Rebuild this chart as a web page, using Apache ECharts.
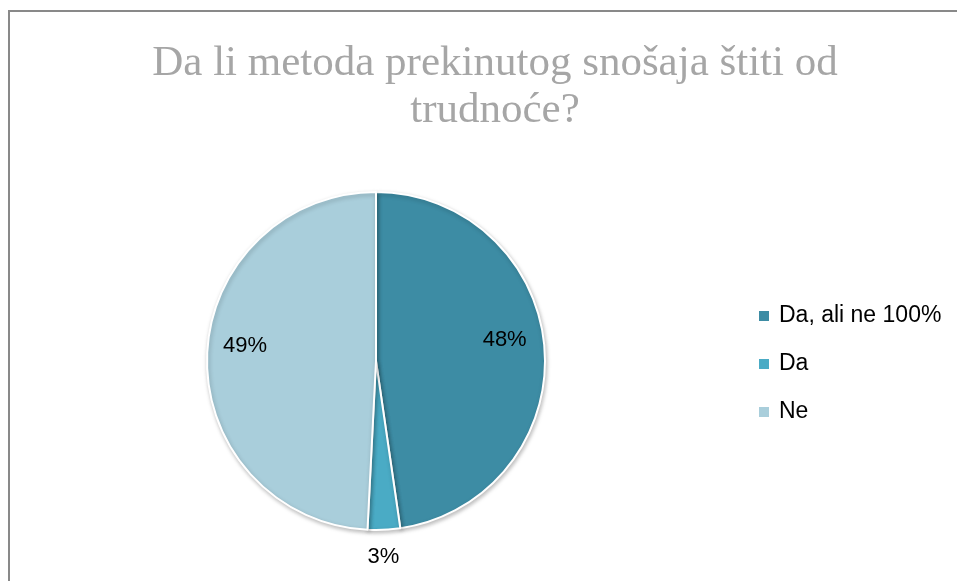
<!DOCTYPE html>
<html>
<head>
<meta charset="utf-8">
<script src="https://cdn.jsdelivr.net/npm/echarts@6/dist/echarts.min.js"></script>
<style>
  html, body { margin: 0; padding: 0; background: #fff; }
  #chart { width: 957px; height: 581px; }
</style>
</head>
<body>
<div id="chart"></div>
<script>
const titleText = 'Da li metoda prekinutog snošaja štiti od\ntrudnoće?'
const categories = ['Da, ali ne 100%', 'Da', 'Ne']
const values = [47.7, 3.1, 49.2]
const colors = ['#3d8ca4', '#4aabc5', '#a9cedb']

const chart = echarts.init(document.getElementById('chart'))

const pieData = categories.map((name, i) => ({
  name: name,
  value: values[i],
  itemStyle: { color: colors[i] }
}))

const option = {
  animation: false,
  color: colors,
  title: {
    text: titleText,
    left: 490,
    top: 35,
    textAlign: 'center',
    textStyle: {
      fontFamily: 'Liberation Serif',
      fontWeight: 'normal',
      fontSize: 43,
      lineHeight: 47,
      color: '#a6a6a6'
    }
  },
  legend: {
    orient: 'vertical',
    left: 757,
    top: 304,
    padding: 0,
    itemWidth: 12,
    itemHeight: 12,
    itemGap: 24,
    icon: 'rect',
    data: categories,
    textStyle: {
      fontFamily: 'Liberation Sans',
      fontSize: 23,
      lineHeight: 24,
      color: '#000',
      padding: [0, 0, 0, 4]
    }
  },
  graphic: [{
    type: 'rect',
    shape: { x: 9, y: 11, width: 1000, height: 1000 },
    style: { fill: 'none', stroke: '#898989', lineWidth: 2 },
    silent: true
  }],
  series: [
    {
      type: 'pie',
      center: [376, 361],
      radius: 169,
      startAngle: 90,
      clockwise: true,
      data: pieData,
      itemStyle: {
        borderColor: '#fff',
        borderWidth: 2,
        shadowBlur: 4,
        shadowOffsetX: 1,
        shadowOffsetY: 2,
        shadowColor: 'rgba(0,0,0,0.25)'
      },
      label: {
        show: true,
        position: 'outside',
        fontFamily: 'Liberation Sans',
        fontSize: 22,
        color: '#000',
        formatter: function(p) {
          return p.dataIndex === 1 ? Math.round(p.percent) + '%' : ''
        }
      },
      labelLine: { show: false, length: 8, length2: 0 },
      labelLayout: function(p) {
        return { align: 'center', verticalAlign: 'top', dx: -6, dy: 8 }
      }
    },
    {
      // transparent ring only used to place the inner labels further out
      type: 'pie',
      center: [376, 361],
      radius: [85, 169],
      startAngle: 90,
      clockwise: true,
      silent: true,
      data: pieData.map(d => ({ name: d.name, value: d.value })),
      itemStyle: { color: 'rgba(0,0,0,0)' },
      label: {
        show: true,
        position: 'inside',
        fontFamily: 'Liberation Sans',
        fontSize: 22,
        color: '#000',
        offset: [-1, -12],
        formatter: function(p) {
          return p.dataIndex === 1 ? '' : Math.round(p.percent) + '%'
        }
      },
      labelLine: { show: false }
    }
  ]
}

chart.setOption(option)
</script>
</body>
</html>
